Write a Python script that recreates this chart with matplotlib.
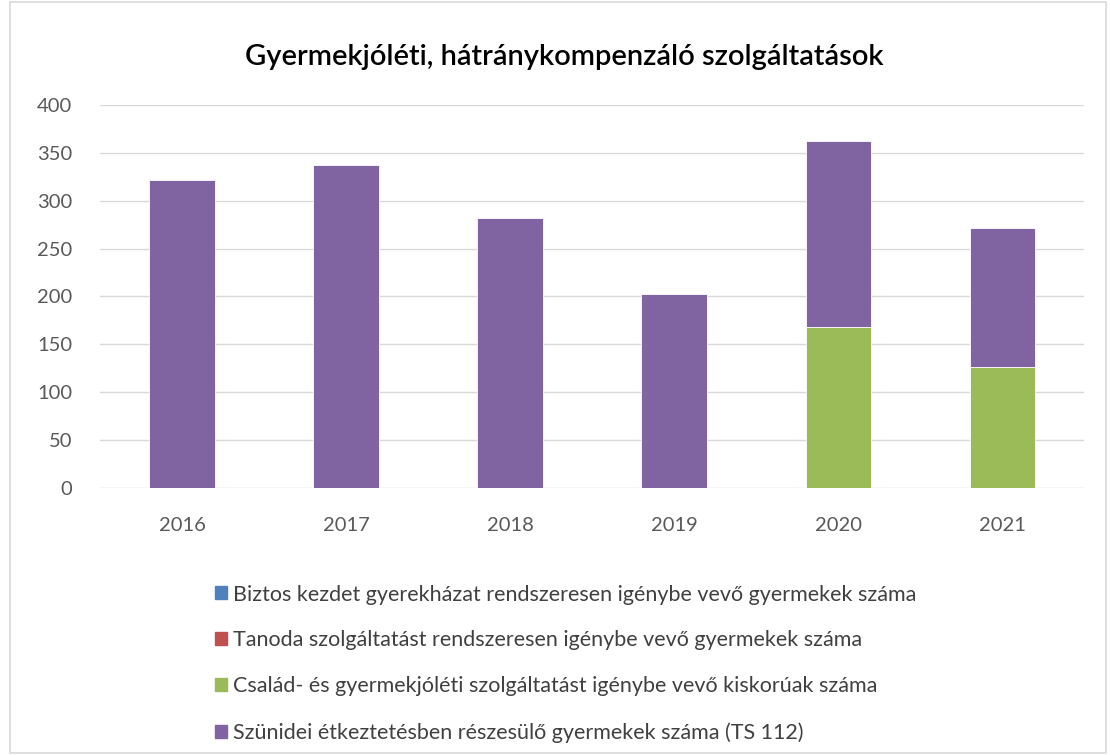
import numpy as np
import matplotlib
matplotlib.use('Agg')
from matplotlib import pyplot as plt
from matplotlib.patches import Rectangle

plt.rcParams['font.family'] = ['Lato', 'DejaVu Sans']

years = ['2016', '2017', '2018', '2019', '2020', '2021']
biztos = [0, 0, 0, 0, 0, 0]
tanoda = [0, 0, 0, 0, 0, 0]
csalad = [0, 0, 0, 0, 168, 126]
szunidei = [322, 337, 282, 203, 194, 146]

labels = ['Biztos kezdet gyerekházat rendszeresen igénybe vevő gyermekek száma',
          'Tanoda szolgáltatást rendszeresen igénybe vevő gyermekek száma',
          'Család- és gyermekjóléti szolgáltatást igénybe vevő kiskorúak száma',
          'Szünidei étkeztetésben részesülő gyermekek száma (TS 112)']
colors = ['#4F81BD', '#C0504D', '#9BBB59', '#8064A2']
series = [biztos, tanoda, csalad, szunidei]

fig = plt.figure(figsize=(11.1, 7.55), dpi=100)
ax = fig.add_axes([0.09, 0.3536, 0.887, 0.5074])

x = np.arange(len(years))
bottom = np.zeros(len(years))
for vals, col, lab in zip(series, colors, labels):
    ax.bar(x, vals, 0.4, bottom=bottom, color=col, label=lab,
           edgecolor='white', linewidth=0.6, zorder=3)
    bottom += np.array(vals)

ax.set_ylim(0, 400)
ax.set_xlim(-0.5, 5.5)
ax.set_yticks(np.arange(0, 401, 50))
ax.set_xticks(x)
ax.set_xticklabels(years)
ax.grid(axis='y', color='#D9D9D9', linewidth=1, zorder=0)
for s in ax.spines.values():
    s.set_visible(False)
ax.tick_params(length=0, labelsize=14.5, colors='#595959')
ax.tick_params(axis='x', pad=21)
ax.tick_params(axis='y', pad=20)

fig.text(0.508, 0.925, 'Gyermekjóléti, hátránykompenzáló szolgáltatások',
         ha='center', va='center', fontsize=21, fontweight='semibold', color='black')

handles = [Rectangle((0, 0), 1, 1, color=c) for c in colors]
fig.legend(handles, labels, loc='upper left', bbox_to_anchor=(0.184, 0.24),
           frameon=False, fontsize=15.5, labelcolor='#404040',
           handlelength=0.55, handleheight=0.55, handletextpad=0.3,
           labelspacing=1.2, borderpad=0)

fig.patches.append(Rectangle((0.009, 0.002), 0.987, 0.996, transform=fig.transFigure,
                             fill=False, edgecolor='#D9D9D9', linewidth=1.2))

plt.savefig('out.png', dpi=100, facecolor='white')
